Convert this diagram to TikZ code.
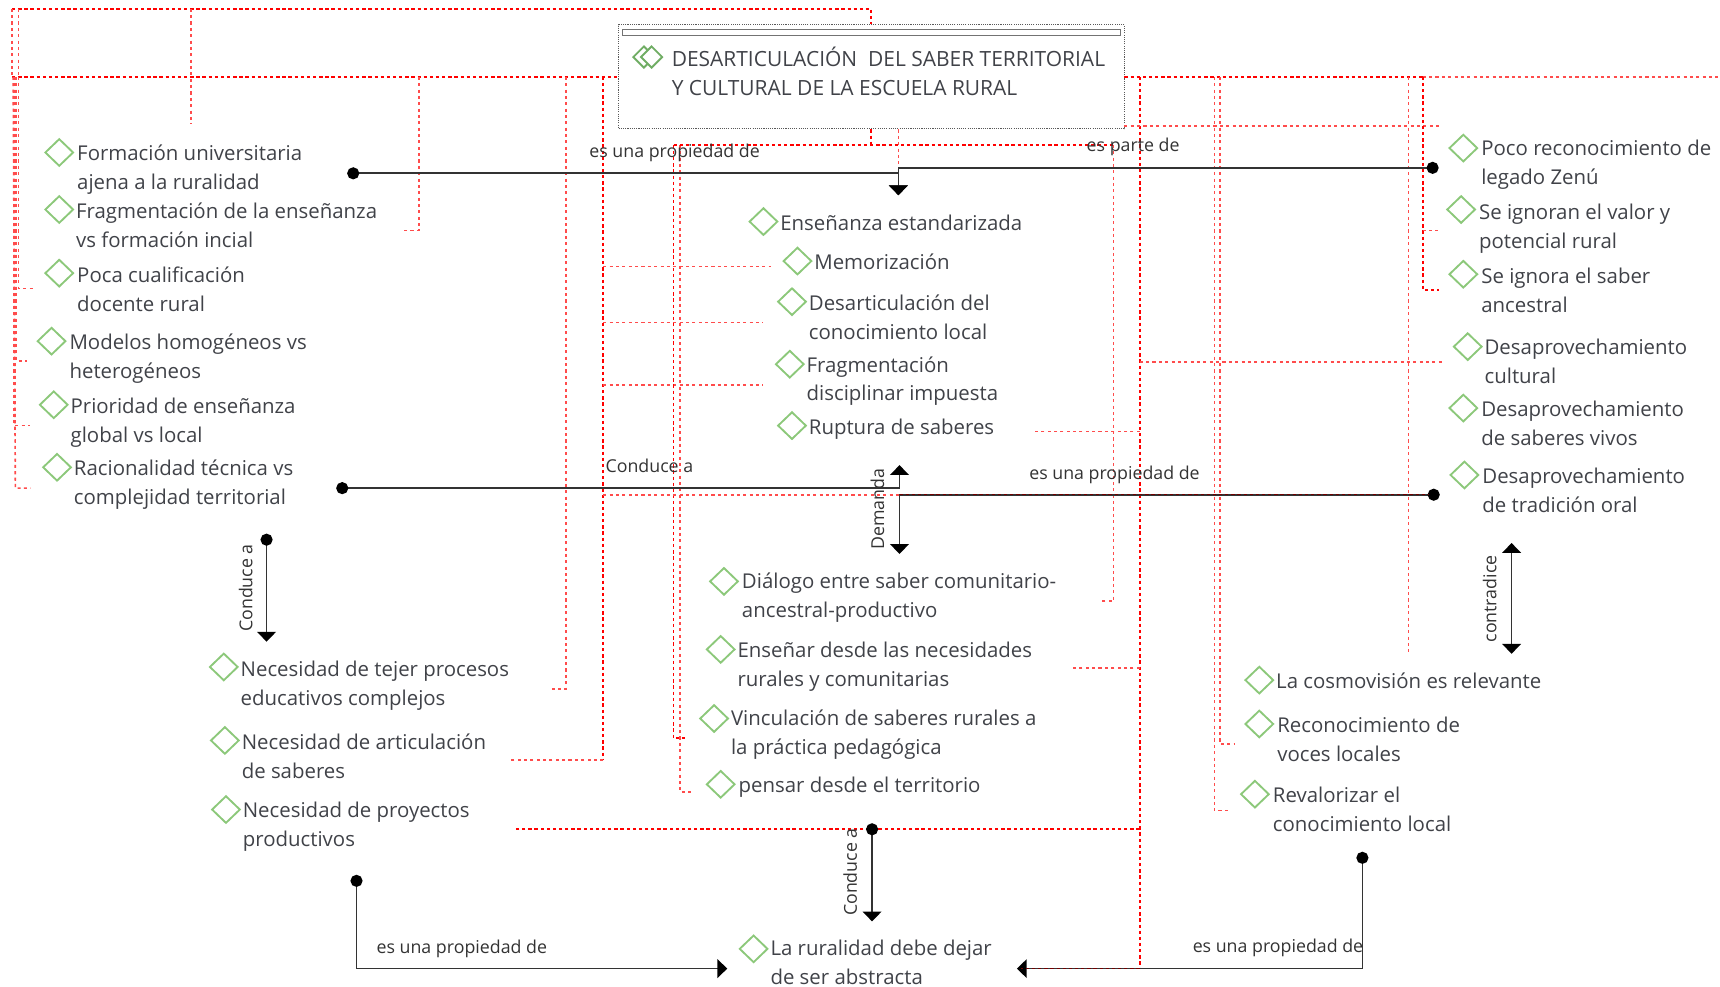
\documentclass[tikz,border=0pt]{standalone}
\usepackage{fontspec}
\setmainfont{Open Sans}
\usetikzlibrary{arrows.meta,shapes.geometric}

\definecolor{verde}{RGB}{140,200,122}
\definecolor{verdeos}{RGB}{112,173,100}
\definecolor{tinta}{RGB}{64,66,72}

\begin{document}
\begin{tikzpicture}[x=1pt,y=-1pt,thick,
   rombo/.style={draw=verde,line width=1.7pt,shape=diamond,inner sep=0pt,minimum width=26pt,minimum height=25pt},
   topic/.style={anchor=west,align=left,inner sep=0pt,text=tinta,font=\fontsize{18.6}{26.3}\selectfont},
   rel/.style={inner sep=0pt,text=black!80,font=\fontsize{16.2}{19}\selectfont}]

\tikzstyle {linea} = [draw=black!80,line width=1.6pt];
\tikzstyle {tipdot} = [linea,{Circle[length=11pt,black]}-{Triangle[width=17pt,length=9pt,black]}];
\tikzstyle {tipdos} = [linea,{Triangle[width=17pt,length=9pt,black]}-{Triangle[width=17pt,length=9pt,black]}];
\tikzstyle {rojo} = [draw=red,line width=1.7pt,dash pattern=on 3pt off 2.6pt];
\tikzstyle {rojito} = [draw=red!70,line width=1.5pt,dash pattern=on 2.8pt off 3pt];
\tikzstyle {rojoscuro} = [draw=red!45!black,line width=1.4pt,dash pattern=on 3pt off 2.6pt];

\useasboundingbox (0,0) rectangle (1568,899);

% titulo
\node[draw=black!65,densely dotted,line width=1pt,minimum width=461pt,minimum height=95pt,inner sep=0pt] (caja) at (794.5,70) {};
\node[draw=black!55,line width=1pt,fill=white,minimum width=454pt,minimum height=6pt,inner sep=0pt] (barra) at (794.5,29.5) {};
\node[rombo,draw=verdeos,minimum width=20pt,minimum height=20pt] (gt1) at (587,52) {};
\node[rombo,draw=verdeos,fill=white,minimum width=20pt,minimum height=20pt] (gt2) at (594,52) {};
\node[topic,font=\fontsize{19.1}{26.3}\selectfont] (titulo) at (612,65) {DESARTICULACIÓN\ \ DEL SABER TERRITORIAL\\Y CULTURAL DE LA ESCUELA RURAL};

% lineas rojas, arriba
\coordinate (ra) at (11,8);
\coordinate (rb) at (794,8);
\coordinate (rc) at (794,22);
\coordinate (rd) at (17,8);
\coordinate (re) at (174,8);
\coordinate (rf) at (174,113);
\coordinate (rg) at (11,70);
\coordinate (rh) at (563,70);
\coordinate (ri) at (1025,70);
\coordinate (rj) at (1568,70);
\coordinate (rk) at (17,70);
\coordinate (rl) at (1297,70);
\path[rojo] (ra) -- (rb) -- (rc);
\path[rojito] (ra) -- (rg);
\path[rojito] (rd) -- (rk);
\path[rojito] (re) -- (rf);
\path[rojo] (rg) -- (rh);
\path[rojo] (ri) -- (rl);
\path[rojito] (rl) -- (rj);

% lineas rojas, izquierda
\coordinate (l1) at (15,70);
\coordinate (l2) at (13,70);
\coordinate (l3) at (12,70);
\coordinate (l4) at (14,70);
\coordinate (l1a) at (17,263);
\coordinate (l1b) at (32,263);
\coordinate (l2a) at (15,329);
\coordinate (l2b) at (25,329);
\coordinate (l3a) at (13,388);
\coordinate (l3b) at (27,388);
\coordinate (l4a) at (14,445);
\coordinate (l4b) at (28,445);
\path[rojito] (rk) -- (l1a) -- (l1b);
\path[rojito] (l1) -- (l2a) -- (l2b);
\path[rojito] (l2) -- (l3a) -- (l3b);
\path[rojito] (l3) -- (l4a) -- (l4b);
\path[rojito] (l4) -- (l4a);

\coordinate (p1) at (382,70);
\coordinate (p1a) at (382,210);
\coordinate (p1b) at (368,210);
\coordinate (p2) at (516,70);
\coordinate (p2a) at (516,628);
\coordinate (p2b) at (502,628);
\coordinate (p3) at (550,70);
\coordinate (p3a) at (550,693);
\coordinate (p3b) at (464,693);
\path[rojito] (p1) -- (p1a) -- (p1b);
\path[rojito] (p2) -- (p2a) -- (p2b);
\path[rojo] (p3) -- (p3a);
\path[rojito] (p3a) -- (p3b);

\coordinate (h1) at (550,243);
\coordinate (h1a) at (703,243);
\coordinate (h2) at (550,294);
\coordinate (h2a) at (696,294);
\coordinate (h3) at (550,351);
\coordinate (h3a) at (696,351);
\coordinate (h4) at (550,451);
\coordinate (h4a) at (1302,451);
\path[rojito] (h1) -- (h1a);
\path[rojito] (h2) -- (h2a);
\path[rojito] (h3) -- (h3a);

% lineas rojas, centro
\coordinate (c1) at (794,118);
\coordinate (c1a) at (794,132);
\coordinate (c2) at (819,118);
\coordinate (c2a) at (819,155);
\coordinate (c3) at (614,132);
\coordinate (c3a) at (614,673);
\coordinate (c3b) at (625,673);
\coordinate (c4) at (620,132);
\coordinate (c4a) at (620,722);
\coordinate (c4b) at (632,722);
\coordinate (c5) at (1015,132);
\coordinate (c5a) at (1015,548);
\coordinate (c5b) at (1003,548);
\path[rojo] (c1) -- (c1a);
\path[rojito] (c2) -- (c2a);
\path[rojo] (c3) -- (c3a) -- (c3b);
\path[rojito] (c4) -- (c4a) -- (c4b);
\path[rojo] (c3) -- (c5);
\path[rojito] (c5) -- (c5a) -- (c5b);

% lineas rojas, derecha
\coordinate (d1) at (1039,70);
\coordinate (d1a) at (1039,883);
\coordinate (d1b) at (931,883);
\coordinate (d2) at (1039,330);
\coordinate (d2a) at (1316,330);
\coordinate (d3) at (1039,393.5);
\coordinate (d3a) at (943,393.5);
\coordinate (d4) at (1039,609);
\coordinate (d4a) at (976,609);
\coordinate (d5) at (1039,756);
\coordinate (d5a) at (470,756);
\coordinate (d6) at (1025,115);
\coordinate (d6a) at (1312,115);
\path[rojo] (d1) -- (d1a);
\path[rojito] (d2) -- (d2a);
\path[rojito] (d3) -- (d3a);
\path[rojito] (d4) -- (d4a);
\path[rojo] (d5) -- (d5a);
\path[rojito] (d6) -- (d6a);

\coordinate (e1) at (1112,70);
\coordinate (e1a) at (1112,678);
\coordinate (e1b) at (1126,678);
\coordinate (e2) at (1107,70);
\coordinate (e2a) at (1107,739);
\coordinate (e2b) at (1122,739);
\coordinate (e3) at (1284,70);
\coordinate (e3a) at (1284,597);
\coordinate (e4) at (1297,70);
\coordinate (e4a) at (1297,264);
\coordinate (e4b) at (1312,264);
\coordinate (e5) at (1297,210);
\coordinate (e5a) at (1311,210);
\path[rojito] (e1) -- (e1a) -- (e1b);
\path[rojito] (e2) -- (e2a) -- (e2b);
\path[rojito] (e3) -- (e3a);
\path[rojo] (e4) -- (e4a) -- (e4b);
\path[rojito] (e5) -- (e5a);

% conectores
\coordinate (a1) at (316.5,158);
\coordinate (a2) at (819,158);
\coordinate (a3) at (819,178);
\coordinate (a4) at (1311.5,153);
\coordinate (a5) at (819,153);
\path[tipdot] (a1) -- (a2) -- (a3);
\path[tipdot] (a4) -- (a5) -- (a3);

\coordinate (b1) at (306.5,445);
\coordinate (b2) at (820,445);
\coordinate (b3) at (820,424);
\coordinate (b4) at (1312.5,451);
\coordinate (b5) at (820,451);
\coordinate (b6) at (820,505);
\path[tipdot] (b1) -- (b2) -- (b3);
\path[rojito] (h4) -- (b5);
\path[tipdot] (b4) -- (b5) -- (b6);
\path[rojoscuro] (b5) -- (h4a);

\coordinate (g1) at (243,486.5);
\coordinate (g2) at (243,585);
\path[tipdot] (g1) -- (g2);

\coordinate (f1) at (795,750.5);
\coordinate (f2) at (795,840);
\path[tipdot] (f1) -- (f2);

\coordinate (k1) at (1378,495);
\coordinate (k2) at (1378,596);
\path[tipdos] (k1) -- (k2);

\coordinate (m1) at (325,797.5);
\coordinate (m2) at (325,883);
\coordinate (m3) at (663,883);
\path[tipdot] (m1) -- (m2) -- (m3);

\coordinate (n1) at (1242,776.5);
\coordinate (n2) at (1242,883);
\coordinate (n3) at (927,883);
\path[tipdot] (n1) -- (n2) -- (n3);
\path[rojoscuro] (d1a) -- (d1b);

% etiquetas
\node[rel] (l1t) at (615,139) {es una propiedad de};
\node[rel] (l2t) at (1033,134) {es parte de};
\node[rel] (l3t) at (592,425) {Conduce a};
\node[rel] (l4t) at (1016,433) {es una propiedad de};
\node[rel] (l5t) at (421,865) {es una propiedad de};
\node[rel] (l6t) at (1165,864) {es una propiedad de};
\node[rel,rotate=90] (l7t) at (800,464) {Demanda};
\node[rel,rotate=90] (l8t) at (224,536) {Conduce a};
\node[rel,rotate=90] (l9t) at (775,795) {Conduce a};
\node[rel,rotate=90] (l10t) at (1358,546) {contradice};

% columna izquierda
\node[rombo] (g01) at (54,139) {};
\node[topic] (t01) at (70,155) {Formación universitaria\\ajena a la ruralidad};
\node[rombo] (g02) at (54,191) {};
\node[topic] (t02) at (69,205.5) {Fragmentación de la enseñanza\\vs formación incial};
\node[rombo] (g03) at (54,249) {};
\node[topic] (t03) at (70,263.5) {Poca cualificación\\docente rural};
\node[rombo] (g04) at (47,311) {};
\node[topic] (t04) at (63,327) {Modelos homogéneos vs\\heterogéneos};
\node[rombo] (g05) at (49,369) {};
\node[topic] (t05) at (64,385) {Prioridad de enseñanza\\global vs local};
\node[rombo] (g06) at (52,426) {};
\node[topic] (t06) at (67,442) {Racionalidad técnica vs\\complejidad territorial};
\node[rombo] (g07) at (204,608) {};
\node[topic] (t07) at (219,625) {Necesidad de tejer procesos\\educativos complejos};
\node[rombo] (g08) at (205,675) {};
\node[topic] (t08) at (220,689.5) {Necesidad de articulación\\de saberes};
\node[rombo] (g09) at (206,738) {};
\node[topic] (t09) at (221,754) {Necesidad de proyectos\\productivos};

% columna central
\node[rombo] (g10) at (696,202) {};
\node[topic] (t10) at (711,203) {Enseñanza estandarizada};
\node[rombo] (g11) at (727,238) {};
\node[topic] (t11) at (742,239) {Memorización};
\node[rombo] (g12) at (722,275) {};
\node[topic] (t12) at (737,289) {Desarticulación del\\conocimiento local};
\node[rombo] (g13) at (720,332) {};
\node[topic] (t13) at (735,347.5) {Fragmentación\\disciplinar impuesta};
\node[rombo] (g14) at (722,388) {};
\node[topic] (t14) at (737,391) {Ruptura de saberes};
\node[rombo] (g15) at (660,530) {};
\node[topic] (t15) at (676,545) {Diálogo entre saber comunitario-\\ancestral-productivo};
\node[rombo] (g16) at (657,592) {};
\node[topic] (t16) at (672,607.5) {Enseñar desde las necesidades\\rurales y comunitarias};
\node[rombo] (g17) at (651,655) {};
\node[topic] (t17) at (666,670) {Vinculación de saberes rurales a\\la práctica pedagógica};
\node[rombo] (g18) at (657,715) {};
\node[topic] (t18) at (673,718) {pensar desde el territorio};
\node[rombo] (g19) at (687,865) {};
\node[topic] (t19) at (702,877.5) {La ruralidad debe dejar\\de ser abstracta};

% columna derecha
\node[rombo] (g20) at (1334,135) {};
\node[topic] (t20) at (1350,150) {Poco reconocimiento de\\legado Zenú};
\node[rombo] (g21) at (1332,191) {};
\node[topic] (t21) at (1348,208.5) {Se ignoran el valor y\\potencial rural};
\node[rombo] (g22) at (1334,250) {};
\node[topic] (t22) at (1350,265) {Se ignora el saber\\ancestral};
\node[rombo] (g23) at (1338,316) {};
\node[topic] (t23) at (1353,329.5) {Desaprovechamiento\\cultural};
\node[rombo] (g24) at (1334,372) {};
\node[topic] (t24) at (1350,386) {Desaprovechamiento\\de saberes vivos};
\node[rombo] (g25) at (1335,433) {};
\node[topic] (t25) at (1351,447) {Desaprovechamiento\\de tradición oral};
\node[rombo] (g26) at (1148,620) {};
\node[topic] (t26) at (1163,621) {La cosmovisión es relevante};
\node[rombo] (g27) at (1148,660) {};
\node[topic] (t27) at (1164,674) {Reconocimiento de\\voces locales};
\node[rombo] (g28) at (1144,724) {};
\node[topic] (t28) at (1160,738) {Revalorizar el\\conocimiento local};

\end{tikzpicture}
\end{document}
